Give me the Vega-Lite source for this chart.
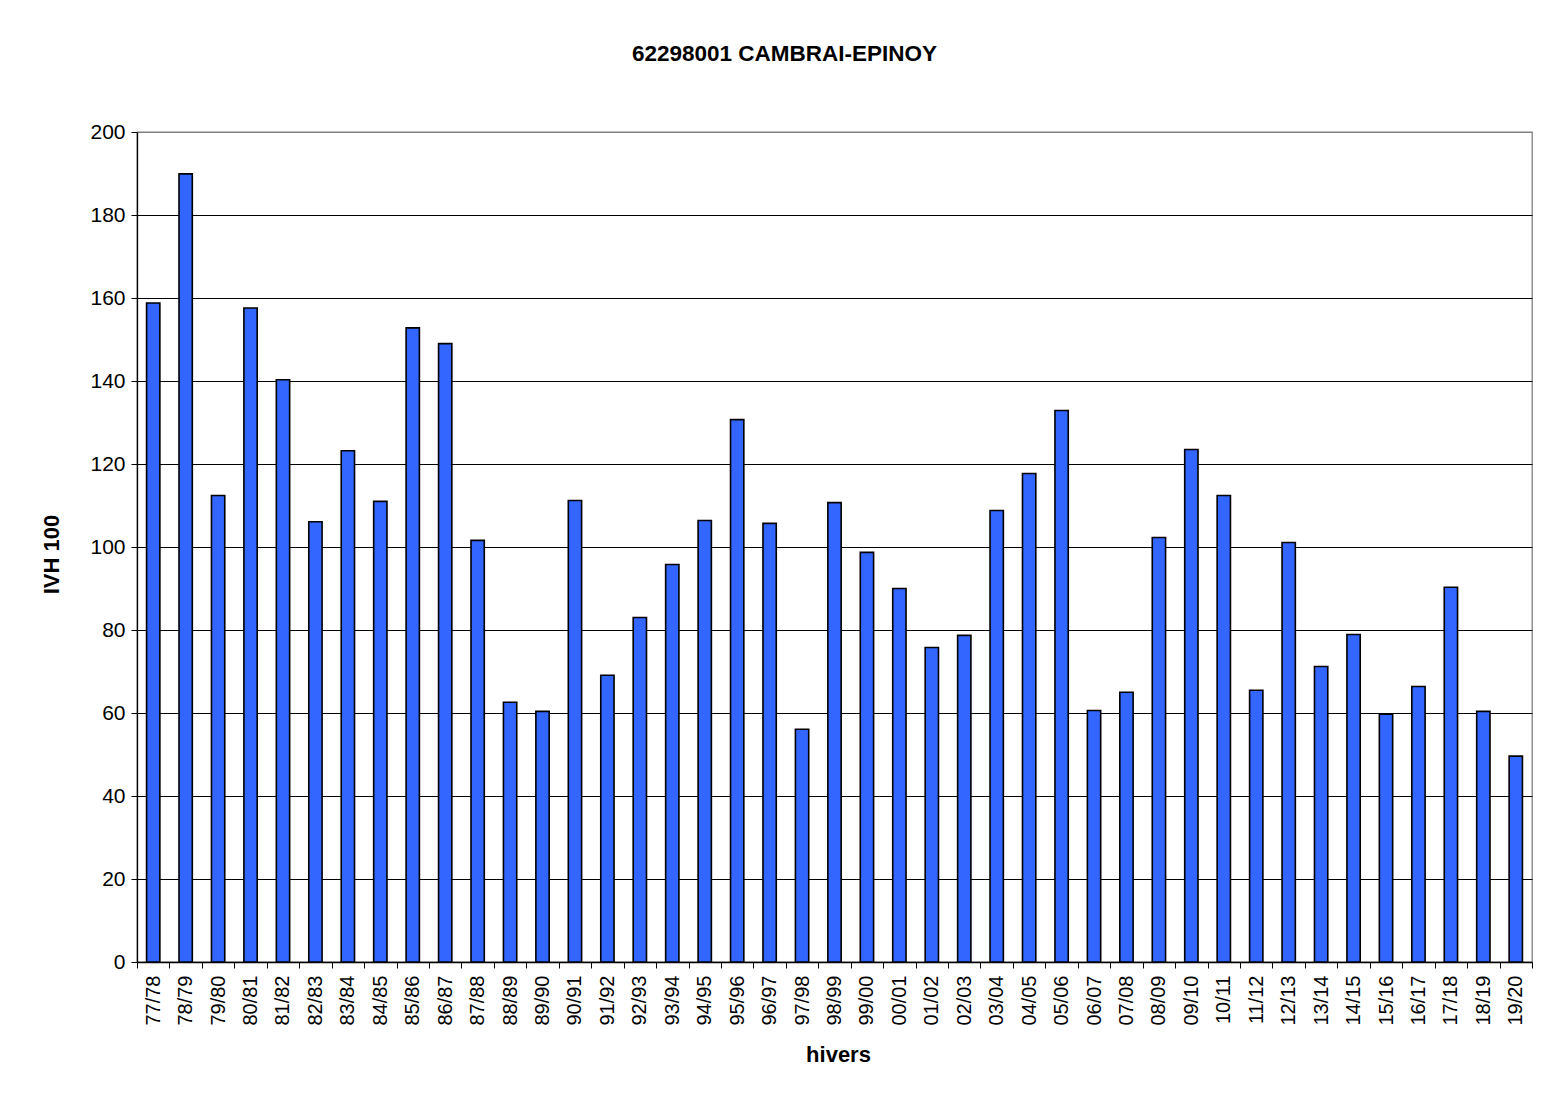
{
  "$schema": "https://vega.github.io/schema/vega-lite/v6.json",
  "width": 1395,
  "height": 830,
  "autosize": {"type": "none"},
  "padding": {"left": 137, "top": 132, "right": 23, "bottom": 142},
  "background": "white",
  "title": {
    "text": "62298001 CAMBRAI-EPINOY",
    "font": "Liberation Sans",
    "fontSize": 22.5,
    "fontWeight": "bold",
    "color": "black",
    "anchor": "middle",
    "dx": -50,
    "offset": 56
  },
  "data": {
    "values": [
      {"hiver": "77/78", "ivh": 158.8},
      {"hiver": "78/79", "ivh": 189.9},
      {"hiver": "79/80", "ivh": 112.4},
      {"hiver": "80/81", "ivh": 157.6},
      {"hiver": "81/82", "ivh": 140.3},
      {"hiver": "82/83", "ivh": 106.1},
      {"hiver": "83/84", "ivh": 123.2},
      {"hiver": "84/85", "ivh": 111.0},
      {"hiver": "85/86", "ivh": 152.8},
      {"hiver": "86/87", "ivh": 149.0},
      {"hiver": "87/88", "ivh": 101.6},
      {"hiver": "88/89", "ivh": 62.6},
      {"hiver": "89/90", "ivh": 60.4},
      {"hiver": "90/91", "ivh": 111.2},
      {"hiver": "91/92", "ivh": 69.1},
      {"hiver": "92/93", "ivh": 83.0},
      {"hiver": "93/94", "ivh": 95.8},
      {"hiver": "94/95", "ivh": 106.4},
      {"hiver": "95/96", "ivh": 130.7},
      {"hiver": "96/97", "ivh": 105.7},
      {"hiver": "97/98", "ivh": 56.1},
      {"hiver": "98/99", "ivh": 110.7},
      {"hiver": "99/00", "ivh": 98.7},
      {"hiver": "00/01", "ivh": 90.0},
      {"hiver": "01/02", "ivh": 75.8},
      {"hiver": "02/03", "ivh": 78.7},
      {"hiver": "03/04", "ivh": 108.8},
      {"hiver": "04/05", "ivh": 117.7},
      {"hiver": "05/06", "ivh": 132.9},
      {"hiver": "06/07", "ivh": 60.6},
      {"hiver": "07/08", "ivh": 65.0},
      {"hiver": "08/09", "ivh": 102.3},
      {"hiver": "09/10", "ivh": 123.5},
      {"hiver": "10/11", "ivh": 112.4},
      {"hiver": "11/12", "ivh": 65.5},
      {"hiver": "12/13", "ivh": 101.1},
      {"hiver": "13/14", "ivh": 71.2},
      {"hiver": "14/15", "ivh": 78.9},
      {"hiver": "15/16", "ivh": 59.7},
      {"hiver": "16/17", "ivh": 66.4},
      {"hiver": "17/18", "ivh": 90.3},
      {"hiver": "18/19", "ivh": 60.4},
      {"hiver": "19/20", "ivh": 49.6}
    ]
  },
  "mark": {"type": "bar", "color": "#3366FF", "stroke": "black", "strokeWidth": 1.6, "opacity": 1, "width": {"band": 0.41}},
  "encoding": {
    "x": {
      "field": "hiver",
      "type": "ordinal",
      "sort": null,
      "scale": {"paddingInner": 0, "paddingOuter": 0},
      "axis": {
        "title": "hivers",
        "titleFont": "Liberation Sans",
        "titleFontSize": 22,
        "titleFontWeight": "bold",
        "titleColor": "black",
        "titlePadding": 19,
        "titleX": 701,
        "labelFont": "Liberation Sans",
        "labelFontSize": 20,
        "labelColor": "black",
        "labelAngle": 270,
        "labelAlign": "right",
        "labelBaseline": "middle",
        "labelPadding": 7,
        "tickBand": "extent",
        "tickSize": 6,
        "tickColor": "black",
        "domainColor": "black",
        "domainWidth": 1.3,
        "grid": false
      }
    },
    "y": {
      "field": "ivh",
      "type": "quantitative",
      "scale": {"domain": [0, 200], "nice": false},
      "axis": {
        "title": "IVH 100",
        "titleFont": "Liberation Sans",
        "titleFontSize": 22,
        "titleFontWeight": "bold",
        "titleColor": "black",
        "titlePadding": 26,
        "titleY": 422,
        "labelFont": "Liberation Sans",
        "labelFontSize": 21,
        "labelColor": "black",
        "labelPadding": 6,
        "values": [0, 20, 40, 60, 80, 100, 120, 140, 160, 180, 200],
        "tickSize": 6,
        "tickColor": "black",
        "domainColor": "black",
        "domainWidth": 1.3,
        "grid": true,
        "gridColor": {"condition": {"test": "datum.value == 200", "value": "#808080"}, "value": "black"},
        "gridWidth": 1
      }
    }
  },
  "config": {
    "view": {"stroke": "#808080", "strokeWidth": 1.3}
  }
}
